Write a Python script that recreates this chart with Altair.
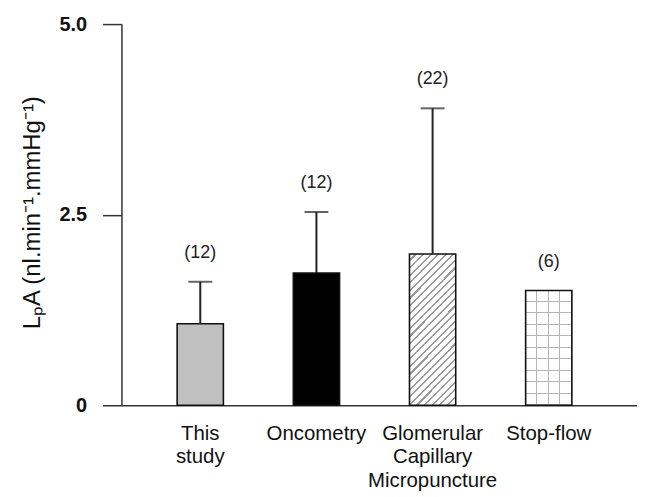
import altair as alt
import pandas as pd

# ---- data ----
categories = ["This\nstudy", "Oncometry", "Glomerular\nCapillary\nMicropuncture", "Stop-flow"]
means = [1.07, 1.735, 1.985, 1.505]
upper = [1.62, 2.535, 3.895, None]
counts = ["(12)", "(12)", "(22)", "(6)"]
y_ticks = [0, 2.5, 5.0]

df = pd.DataFrame({"cat": categories, "mean": means, "upper": upper, "n": counts})

FONT = "Liberation Sans"


def stripes(n, frac, color, bg, x2, y2):
    stops = []
    for k in range(n):
        a = k / n
        b = (k + 1 - frac) / n
        c = (k + 1) / n
        stops += [
            {"offset": a, "color": bg},
            {"offset": b, "color": bg},
            {"offset": b, "color": color},
            {"offset": c, "color": color},
        ]
    return {"gradient": "linear", "x1": 0, "y1": 0, "x2": x2, "y2": y2, "stops": stops}


hatch = stripes(26, 0.28, "#9a9a9a", "#ffffff", 0.366, 1.194)
grid_h = stripes(10, 0.09, "#b5b5b5", "#ffffff", 0, 1)
grid_v = stripes(4, 0.09, "#b5b5b5", "rgba(255,255,255,0)", 1, 0)

x = alt.X(
    "cat:N",
    sort=categories,
    title=None,
    scale=alt.Scale(paddingInner=0.602, paddingOuter=0.52, align=0.461),
    axis=alt.Axis(
        ticks=False,
        labelAngle=0,
        labelExpr="split(datum.value, '\\n')",
        labelFont=FONT,
        labelFontSize=20.5,
        labelLineHeight=24,
        labelBaseline="top",
        labelPadding=18,
        labelColor="#111",
        domainColor="#333",
        domainWidth=1.5,
    ),
)
y_scale = alt.Scale(domain=[0, 5], nice=False, zero=True)

base = alt.Chart(df)

bars = base.mark_bar().encode(
    x=x,
    y=alt.Y(
        "mean:Q",
        scale=y_scale,
        title="LₚA (nl.min⁻¹.mmHg⁻¹)",
        axis=alt.Axis(
            values=y_ticks,
            labelExpr="datum.value == 0 ? '0' : format(datum.value, '.1f')",
            labelFont=FONT,
            labelFontSize=20,
            labelFontWeight="bold",
            labelColor="#111",
            labelPadding=16,
            tickSize=19,
            tickColor="#333",
            tickWidth=1.5,
            domainColor="#333",
            domainWidth=1.5,
            grid=False,
            titleFont=FONT,
            titleFontSize=24,
            titleFontWeight="normal",
            titleColor="#111",
            titleAngle=270,
            titleX=-89,
            titleY=189,
            titleAlign="center",
            titleBaseline="middle",
        ),
    ),
    fill=alt.Fill(
        "cat:N",
        scale=alt.Scale(domain=categories, range=["#c0c0c0", "#000000", "#ffffff", "#ffffff"]),
        legend=None,
    ),
)

glom = base.transform_filter(alt.datum.cat == categories[2]).mark_bar(fill=hatch).encode(
    x=x, y=alt.Y("mean:Q", scale=y_scale)
)
stop_h = base.transform_filter(alt.datum.cat == categories[3]).mark_bar(fill=grid_h).encode(
    x=x, y=alt.Y("mean:Q", scale=y_scale)
)
stop_v = base.transform_filter(alt.datum.cat == categories[3]).mark_bar(fill=grid_v).encode(
    x=x, y=alt.Y("mean:Q", scale=y_scale)
)
outline = base.mark_bar(fillOpacity=0, stroke="#111", strokeWidth=1.6).encode(
    x=x, y=alt.Y("mean:Q", scale=y_scale)
)

err = base.transform_filter("isValid(datum.upper)").mark_rule(color="#222", strokeWidth=2).encode(
    x=x, y=alt.Y("mean:Q", scale=y_scale), y2="upper:Q"
)
cap = base.transform_filter("isValid(datum.upper)").mark_tick(
    color="#222", thickness=2, size=24
).encode(x=x, y=alt.Y("upper:Q", scale=y_scale))

labels = base.transform_calculate(
    top="isValid(datum.upper) ? datum.upper : datum.mean"
).mark_text(font=FONT, fontSize=18, color="#222", baseline="middle", dy=-29).encode(
    x=x, y=alt.Y("top:Q", scale=y_scale), text="n:N"
)

chart = (
    alt.layer(bars, glom, stop_h, stop_v, outline, err, cap, labels)
    .properties(
        width=518,
        height=383,
        autosize=alt.AutoSizeParams(type="none"),
        padding={"left": 114, "top": 15, "right": 0, "bottom": 90},
        background="white",
    )
    .configure_view(stroke=None)
)

chart.save("out.html", embed_options={"renderer": "svg", "actions": False})
